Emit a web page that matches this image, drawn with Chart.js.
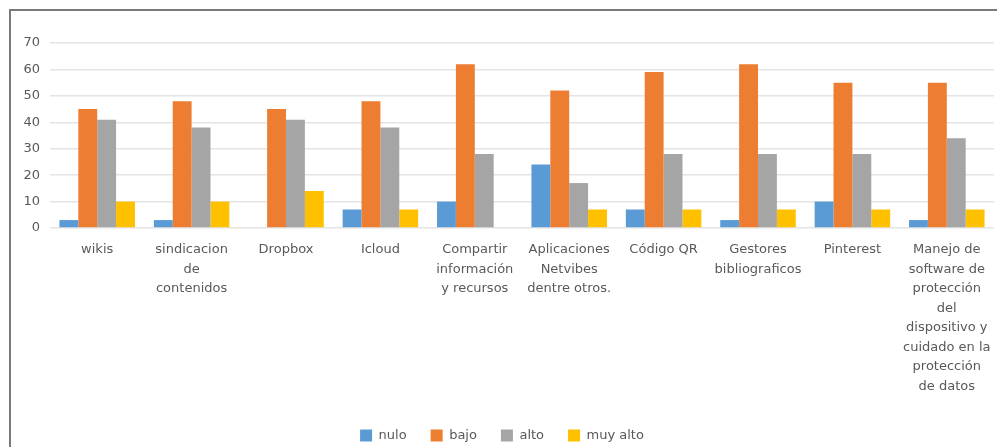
<!DOCTYPE html>
<html>
<head>
<meta charset="utf-8">
<script src="https://cdn.jsdelivr.net/npm/chart.js@4"></script>
<style>
  body { margin: 0; background: #fff; }
  #wrap { position: relative; width: 997px; height: 447px; overflow: hidden; }
  #frame { position: absolute; left: 9px; top: 9px; width: 1000px; height: 500px;
           border-left: 2px solid #7a7a7a; border-top: 2px solid #7a7a7a; }
  canvas { position: absolute; left: 0; top: 0; }
</style>
</head>
<body>
<div id="wrap">
  <div id="frame"></div>
  <canvas id="c" width="997" height="447"></canvas>
</div>
<script>
// categories (multi-line labels as in the original)
const categories = [
    'wikis',
    ['sindicacion', 'de', 'contenidos'],
    'Dropbox',
    'Icloud',
    ['Compartir', 'información', 'y recursos'],
    ['Aplicaciones', 'Netvibes', 'dentre otros.'],
    'Código QR',
    ['Gestores', 'bibliograficos'],
    'Pinterest',
    ['Manejo de', 'software de', 'protección', 'del', 'dispositivo y', 'cuidado en la', 'protección', 'de datos'],
];

const nulo    = [3, 3, 0, 7, 10, 24, 7, 3, 10, 3];
const bajo    = [45, 48, 45, 48, 62, 52, 59, 62, 55, 55];
const alto    = [41, 38, 41, 38, 28, 17, 28, 28, 28, 34];
const muyAlto = [10, 10, 14, 7, 0, 7, 7, 7, 7, 7];

const yTicks = [0, 10, 20, 30, 40, 50, 60, 70];

const TXT = '#595959';
const FONT = { family: 'DejaVu Sans', size: 13 };

function ds(label, data, color) {
    return {
        label: label,
        data: data,
        backgroundColor: color,
        borderWidth: 0,
        categoryPercentage: 0.8,
        barPercentage: 1.0,
    };
}

new Chart(document.getElementById('c'), {
    type: 'bar',
    data: {
        labels: categories,
        datasets: [
            ds('nulo', nulo, '#5B9BD5'),
            ds('bajo', bajo, '#ED7D31'),
            ds('alto', alto, '#A5A5A5'),
            ds('muy alto', muyAlto, '#FFC000'),
        ],
    },
    options: {
        responsive: false,
        animation: false,
        layout: { padding: { top: 43, left: 10, right: 3, bottom: -5 } },
        plugins: {
            tooltip: { enabled: false },
            legend: {
                position: 'bottom',
                labels: {
                    color: TXT,
                    font: FONT,
                    boxWidth: 12,
                    boxHeight: 12,
                    padding: 24,
                },
            },
        },
        scales: {
            x: {
                grid: { display: false },
                border: { display: false },
                ticks: {
                    color: TXT,
                    font: { family: 'DejaVu Sans', size: 13, lineHeight: 1.5 },
                    maxRotation: 0,
                    autoSkip: false,
                    padding: 4,
                },
                afterFit: s => { s.height = 177; },
            },
            y: {
                min: 0,
                max: 70,
                afterBuildTicks: s => { s.ticks = yTicks.map(v => ({ value: v })); },
                grid: { color: '#e4e4e4', lineWidth: 1.5, drawTicks: false },
                border: { display: false },
                ticks: { color: TXT, font: FONT, padding: 10 },
                afterFit: s => { s.width = 40; },
            },
        },
    },
});
</script>
</body>
</html>
